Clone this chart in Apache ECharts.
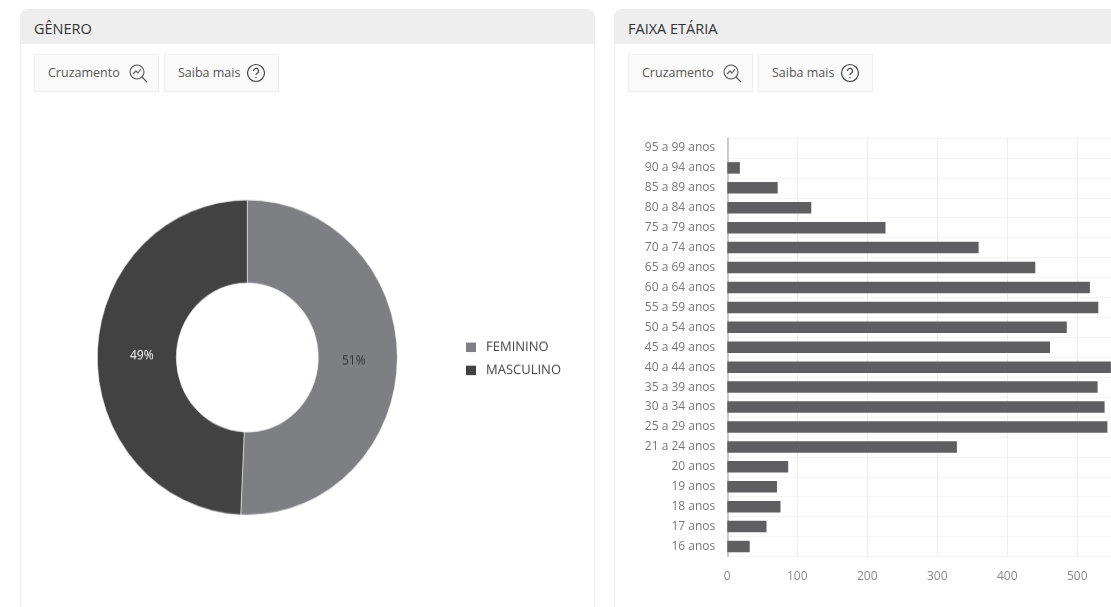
<!doctype html>
<html lang="pt">
<head>
<meta charset="utf-8">
<title>Gênero e faixa etária</title>
<script src="https://cdn.jsdelivr.net/npm/echarts@6/dist/echarts.min.js"></script>
<style>
html, body { margin: 0; padding: 0; width: 1111px; height: 607px; overflow: hidden; background: #fff; font-family: "Open Sans", sans-serif; color: #444; }
.panel { position: absolute; top: 9px; height: 620px; box-sizing: border-box; border: 1px solid #eee; border-radius: 7px 7px 0 0; background: #fff; }
.panel .head { height: 34px; line-height: 37px; background: #eee; border-radius: 6px 6px 0 0; padding-left: 13px; font-size: 14.5px; color: #333; }
.btn { position: absolute; top: 44px; height: 38px; box-sizing: border-box; border: 1px solid #eee; background: #fafafa; font-size: 12.5px; line-height: 36px; color: #555; padding-left: 13px; white-space: nowrap; }
.btn svg { position: absolute; top: 7px; }
#pie { position: absolute; left: 20px; top: 100px; width: 575px; height: 483px; transform: scaleY(1.05); transform-origin: top left; }
#bars { position: absolute; left: 614px; top: 100px; width: 560px; height: 507px; }
</style>
</head>
<body>
<div class="panel" style="left:20px;width:575px">
  <div class="head">GÊNERO</div>
  <div class="btn" style="left:13px;width:125px">Cruzamento
    <svg style="left:92px" width="22" height="22" viewBox="0 0 22 22" fill="none" stroke="#555" stroke-width="1.1"><circle cx="10" cy="10" r="7"/><path d="M15 15l5 5M6 12l3-3 2 2 3-4"/></svg>
  </div>
  <div class="btn" style="left:143px;width:115px">Saiba mais
    <svg style="left:80px" width="22" height="22" viewBox="0 0 22 22" fill="none" stroke="#444" stroke-width="1.2"><circle cx="11" cy="11" r="8.5"/><path d="M8.5 9a2.5 2.5 0 1 1 3.6 2.2c-.8.4-1.1.9-1.1 1.8M11 15v1.2"/></svg>
  </div>
</div>
<div class="panel" style="left:614px;width:520px">
  <div class="head">FAIXA ETÁRIA</div>
  <div class="btn" style="left:13px;width:125px">Cruzamento
    <svg style="left:92px" width="22" height="22" viewBox="0 0 22 22" fill="none" stroke="#555" stroke-width="1.1"><circle cx="10" cy="10" r="7"/><path d="M15 15l5 5M6 12l3-3 2 2 3-4"/></svg>
  </div>
  <div class="btn" style="left:143px;width:115px">Saiba mais
    <svg style="left:80px" width="22" height="22" viewBox="0 0 22 22" fill="none" stroke="#444" stroke-width="1.2"><circle cx="11" cy="11" r="8.5"/><path d="M8.5 9a2.5 2.5 0 1 1 3.6 2.2c-.8.4-1.1.9-1.1 1.8M11 15v1.2"/></svg>
  </div>
</div>
<div id="pie"></div>
<div id="bars"></div>

<script type="text/javascript">
var generoNomes = ['FEMININO', 'MASCULINO'];
var generoValores = [50.7, 49.3];
var generoCores = ['#7e7f83', '#424243'];
var generoLabelCores = ['#333333', '#ffffff'];

// de baixo para cima, como o eixo de categorias desenha
var faixas = ['16 anos', '17 anos', '18 anos', '19 anos', '20 anos', '21 a 24 anos', '25 a 29 anos',
    '30 a 34 anos', '35 a 39 anos', '40 a 44 anos', '45 a 49 anos', '50 a 54 anos', '55 a 59 anos',
    '60 a 64 anos', '65 a 69 anos', '70 a 74 anos', '75 a 79 anos', '80 a 84 anos', '85 a 89 anos',
    '90 a 94 anos', '95 a 99 anos'];
var faixaValores = [32, 56, 76, 71, 87, 328, 543, 539, 529, 548, 461, 485, 530, 518, 440, 359, 226, 120, 72, 18, 0];

var fonte = '"Open Sans", sans-serif';

var pieChart = echarts.init(document.getElementById('pie'));
pieChart.setOption({
    animation: false,
    legend: {
        orient: 'vertical',
        left: 439,
        top: 224,
        itemWidth: 12,
        itemHeight: 11,
        itemGap: 9,
        icon: 'rect',
        textStyle: { fontFamily: fonte, fontSize: 13, color: '#444', padding: [0, 0, 0, 4] },
        data: generoNomes
    },
    series: [{
        type: 'pie',
        center: [227.3, 245.2],
        radius: [71, 150],
        startAngle: 90,
        percentPrecision: 0,
        label: { position: 'inside', formatter: '{d}%', fontFamily: fonte, fontSize: 12 },
        labelLine: { show: false },
        itemStyle: { borderColor: '#fff', borderWidth: 0.5 },
        data: generoNomes.map(function (nome, i) {
            return {
                name: nome,
                value: generoValores[i],
                itemStyle: { color: generoCores[i] },
                label: { color: generoLabelCores[i], offset: [i === 0 ? -7 : 8, 1] }
            };
        })
    }]
});

var barChart = echarts.init(document.getElementById('bars'));
barChart.setOption({
    animation: false,
    grid: { left: 113.3, top: 38, width: 420, height: 418.5, outerBoundsMode: 'none' },
    xAxis: {
        type: 'value',
        min: 0,
        max: 600,
        interval: 100,
        axisLine: { show: false },
        axisTick: { show: false },
        axisLabel: { fontFamily: fonte, fontSize: 12, color: '#888', margin: 14 },
        splitLine: { show: true, lineStyle: { color: '#eeeeee' } }
    },
    yAxis: {
        type: 'category',
        data: faixas,
        axisLine: { lineStyle: { color: '#bbbbbb', width: 1.5 } },
        axisTick: { show: false },
        axisLabel: { fontFamily: fonte, fontSize: 12, color: '#777', margin: 12, interval: 0 },
        splitLine: { show: true, lineStyle: { color: '#f5f5f5' } }
    },
    series: [{
        type: 'bar',
        data: faixaValores,
        barWidth: 11.5,
        itemStyle: { color: '#5f5f61' }
    }]
});
</script>
</body>
</html>
